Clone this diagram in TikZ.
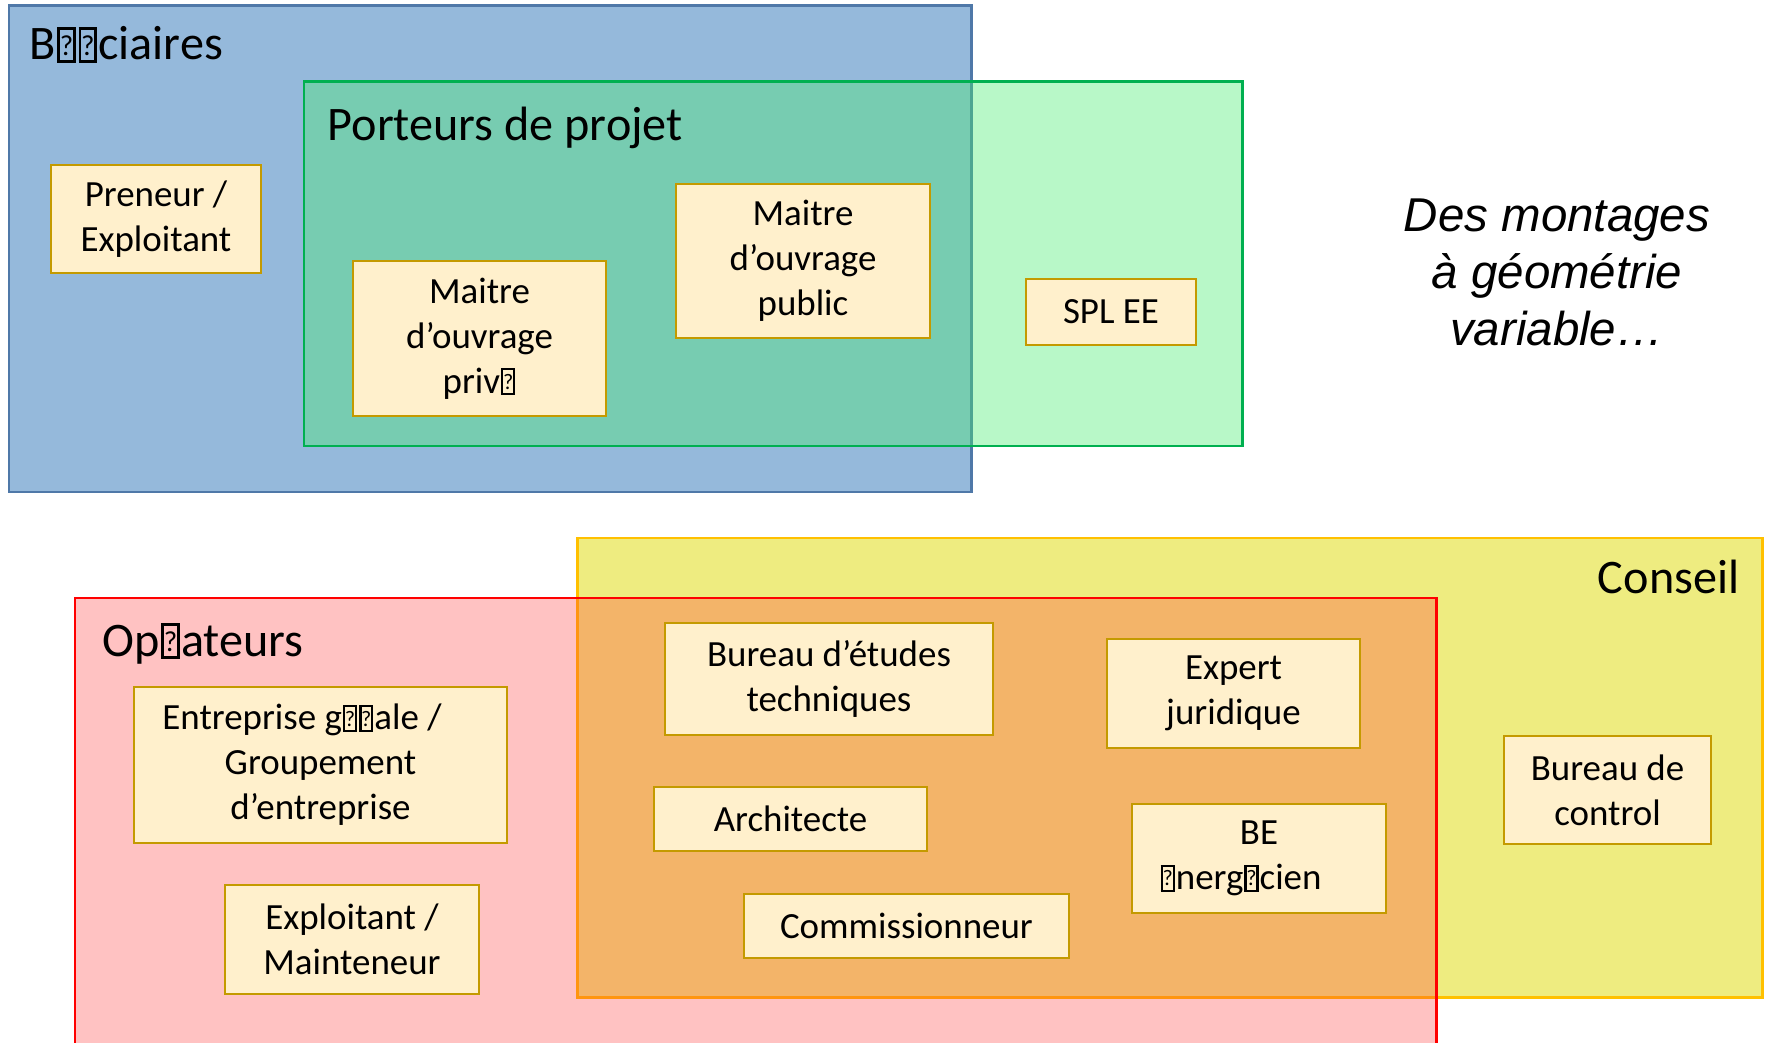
\documentclass[tikz,border=0pt]{standalone}
\usepackage{fontspec}
\setmainfont{Carlito}
\newfontfamily\arialfont{Liberation Sans}
\usepackage{graphicx}
\usepackage{xcolor}
\definecolor{benefill}{RGB}{149,185,219}
\definecolor{beneline}{RGB}{79,120,168}
\definecolor{portfill}{RGB}{72,236,113}
\definecolor{portline}{RGB}{0,176,80}
\definecolor{consfill}{RGB}{238,236,128}
\definecolor{consline}{RGB}{255,192,0}
\definecolor{opefill}{RGB}{255,52,52}
\definecolor{opeline}{RGB}{255,0,0}
\definecolor{actfill}{RGB}{255,240,204}
\definecolor{actline}{RGB}{196,154,0}
\newcommand{\nochar}{{\setlength{\fboxsep}{0pt}\setlength{\fboxrule}{0.06em}\kern0.03em\fbox{\makebox[0.26em]{\rule{0pt}{0.62em}\raisebox{0.1em}{\scalebox{0.6}{?}}}}\kern0.03em}}
\newcommand{\actbox}[6]{\node[actbox,minimum width=#4*0.01cm,minimum height=#5*0.01cm] (#1) at (#2,#3) {#6};}
\tikzset{
	actbox/.style={draw=actline,fill=actfill,line width=0.7pt,align=center,inner sep=0pt,font=\fontsize{10.5}{12.8}\selectfont},
	grouptitle/.style={inner sep=0pt,font=\fontsize{13.7}{16.5}\selectfont},
	group/.style={line width=0.85pt}
}

\begin{document}
\begin{tikzpicture}[x=0.01cm,y=-0.01cm]
	\useasboundingbox (0,0) rectangle (1767,1043);
	\clip (0,0) rectangle (1767,1043);
	
	% groups
	\draw[group,fill=benefill,draw=beneline] (9,6) rectangle (971,492);
	\draw[group,fill=portfill,fill opacity=0.39,draw=portline] (304,82) rectangle (1242,446);
	\draw[group,fill=consfill,draw=consline] (577,538) rectangle (1762,997);
	\draw[group,fill=opefill,fill opacity=0.3,draw=opeline] (75,598) rectangle (1436,1070);
	
	\node[grouptitle,anchor=base west] (benef) at (29,60) {B\nochar\nochar ciaires};
	\node[grouptitle,anchor=base west] (porteur) at (327,141) {Porteurs de projet};
	\node[grouptitle,anchor=base west] (operat) at (102,656) {Op\nochar ateurs};
	\node[grouptitle,anchor=base east] (conseil) at (1740,593) {Conseil};
	
	% acteurs
	\actbox{preneur}{156}{219}{210}{108}{Preneur /\\ Exploitant}
	\actbox{moprive}{479.5}{338.5}{253}{155}{Maitre\\ d’ouvrage\\ priv\nochar}
	\actbox{mopublic}{803}{261}{254}{154}{Maitre\\ d’ouvrage\\ public}
	\actbox{splee}{1111}{312}{170}{66}{SPL EE}
	\actbox{betech}{829}{679}{328}{112}{Bureau d’études\\ techniques}
	\actbox{expert}{1233.5}{693.5}{253}{109}{Expert\\ juridique}
	\actbox{archi}{790.5}{819}{273}{64}{Architecte}
	\actbox{beener}{1259}{858.5}{254}{109}{BE\\ \nochar nerg\nochar cien\kern1em}
	\actbox{bcontrol}{1607.5}{790}{207}{108}{Bureau de\\ control}
	\actbox{commiss}{906.5}{926}{325}{64}{Commissionneur}
	\actbox{entrep}{320.5}{765}{373}{156}{Entreprise g\nochar\nochar ale /\kern1em\\ Groupement\\ d’entreprise}
	\actbox{exploit}{352}{939.5}{254}{109}{Exploitant /\\ Mainteneur}
	
	\node[align=center,font={\arialfont\itshape\fontsize{13.5}{16.2}\selectfont}] (montage) at (1557,272) {Des montages\\ à géométrie\\ variable…};
\end{tikzpicture}
\end{document}
